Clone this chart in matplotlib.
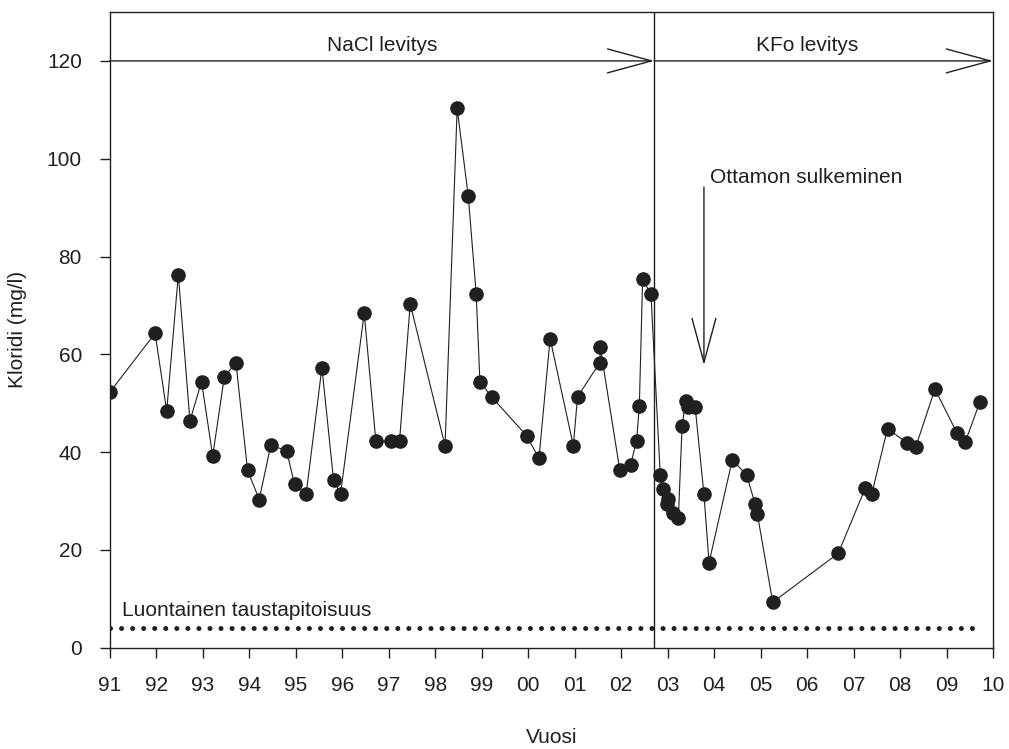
import matplotlib
matplotlib.use('Agg')
import matplotlib.pyplot as plt

plt.rcParams['font.family'] = ['Liberation Sans', 'DejaVu Sans']

# Näytteenottoajat (desimaalivuosina) ja kloridipitoisuus (mg/l)
years = [1991.00, 1991.97, 1992.22, 1992.47, 1992.72, 1992.97, 1993.21, 1993.46,
         1993.71, 1993.96, 1994.21, 1994.46, 1994.80, 1994.97, 1995.22, 1995.56,
         1995.81, 1995.96, 1996.47, 1996.72, 1997.05, 1997.23, 1997.46, 1998.21,
         1998.47, 1998.71, 1998.88, 1998.96, 1999.21, 1999.97, 2000.23, 2000.47,
         2000.97, 2001.06, 2001.54, 2001.55, 2001.97, 2002.20, 2002.33, 2002.39,
         2002.46, 2002.64, 2002.84, 2002.89, 2002.98, 2003.01, 2003.12, 2003.23,
         2003.31, 2003.39, 2003.44, 2003.59, 2003.78, 2003.89, 2004.39, 2004.70,
         2004.88, 2004.93, 2005.26, 2006.67, 2007.25, 2007.39, 2007.73, 2008.16,
         2008.34, 2008.75, 2009.22, 2009.40, 2009.72]
chloride = [52.3, 64.3, 48.4, 76.3, 46.4, 54.4, 39.2, 55.4,
            58.3, 36.3, 30.3, 41.4, 40.3, 33.4, 31.4, 57.3,
            34.3, 31.4, 68.4, 42.3, 42.3, 42.3, 70.3, 41.3,
            110.3, 92.3, 72.3, 54.4, 51.3, 43.3, 38.7, 63.2,
            41.3, 51.3, 58.3, 61.4, 36.3, 37.3, 42.3, 49.4,
            75.3, 72.3, 35.3, 32.4, 29.4, 30.5, 27.5, 26.5,
            45.4, 50.5, 49.3, 49.3, 31.4, 17.4, 38.4, 35.3,
            29.4, 27.3, 9.3, 19.3, 32.6, 31.4, 44.8, 41.8,
            41.1, 52.9, 44.0, 42.0, 50.3]

background_level = 4
background_span = [1991.0, 2009.7]
switch_year = 2002.71      # NaCl -> KFo
closing_year = 2003.78     # ottamon sulkeminen

tick_years = list(range(1991, 2011))
tick_labels = ['%02d' % (y % 100) for y in tick_years]
y_ticks = [0, 20, 40, 60, 80, 100, 120]

ink = '#231f20'

fig = plt.figure(figsize=(10.09, 7.49), dpi=100)
ax = fig.add_axes([110 / 1009, 1 - 647.7 / 749, 883 / 1009, 635.7 / 749])

# Mittaukset
ax.plot(years, chloride, color=ink, lw=0.8, marker='o', markersize=9.5,
        markerfacecolor=ink, markeredgecolor=ink, zorder=3)

# Luontainen taustapitoisuus pisteviivana
ax.plot(background_span, [background_level] * 2, color=ink, lw=3.6,
        linestyle=(0, (0.01, 2.2)), dash_capstyle='round', zorder=2)
ax.text(1991.26, 6.5, 'Luontainen taustapitoisuus', fontsize=15,
        color=ink, va='baseline', ha='left')

# Jakoviiva NaCl / KFo
ax.axvline(switch_year, color=ink, lw=1.0, zorder=1)

arrow = dict(arrowstyle='->,head_length=31.7,head_width=8.6', mutation_scale=1,
             color=ink, lw=1.0, shrinkA=0, shrinkB=0)
ax.annotate('', xy=(switch_year, 120), xytext=(1991, 120), arrowprops=arrow,
            annotation_clip=False)
ax.annotate('', xy=(2010, 120), xytext=(switch_year, 120), arrowprops=arrow,
            annotation_clip=False)
ax.text(1996.85, 122, 'NaCl levitys', fontsize=15, color=ink,
        ha='center', va='baseline')
ax.text(2006.0, 122, 'KFo levitys', fontsize=15, color=ink,
        ha='center', va='baseline')

# Ottamon sulkeminen
ax.annotate('', xy=(closing_year, 57.8), xytext=(closing_year, 94.2),
            arrowprops=arrow)
ax.text(2003.91, 95, 'Ottamon sulkeminen', fontsize=15, color=ink,
        ha='left', va='baseline')

ax.set_xlim(1991, 2010)
ax.set_ylim(0, 130)
ax.set_xticks(tick_years)
ax.set_xticklabels(tick_labels)
ax.set_yticks(y_ticks)
ax.tick_params(direction='out', length=7.2, width=1.0, labelsize=15,
               colors=ink, pad=13)
for s in ax.spines.values():
    s.set_linewidth(1.0)
    s.set_color(ink)

ax.set_xlabel('Vuosi', fontsize=15, color=ink, va='baseline')
ax.set_ylabel('Kloridi (mg/l)', fontsize=15, color=ink)
ax.xaxis.set_label_coords(0.5, -0.150)
ax.yaxis.set_label_coords(-0.094, 0.5)

fig.savefig('out.png', dpi=100)
